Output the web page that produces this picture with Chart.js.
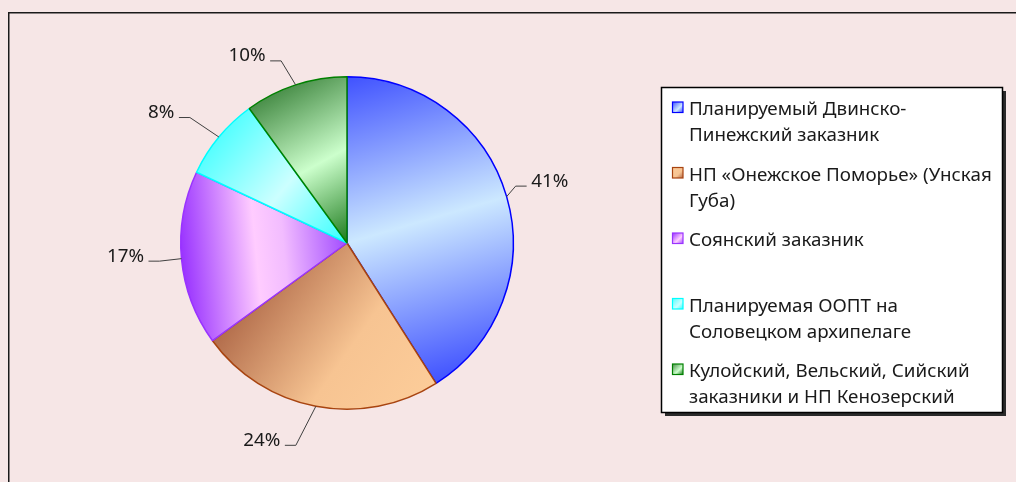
<!DOCTYPE html>
<html>
<head>
<meta charset="utf-8">
<script src="https://cdn.jsdelivr.net/npm/chart.js@4.4.0/dist/chart.umd.min.js"></script>
<style>
  html, body { margin: 0; padding: 0; background: #f6e6e6; }
  #wrap { width: 1016px; height: 482px; }
</style>
</head>
<body>
<div id="wrap"><canvas id="share-pie" width="1016" height="482"></canvas></div>
<script>
// Data
const legendLines = [
  ['Планируемый Двинско-', 'Пинежский заказник'],
  ['НП «Онежское Поморье» (Унская', 'Губа)'],
  ['Соянский заказник', ''],
  ['Планируемая ООПТ на', 'Соловецком архипелаге'],
  ['Кулойский, Вельский, Сийский', 'заказники и НП Кенозерский']
];
const categories = legendLines.map(l => l.join(' ').trim());
const shares = [41, 24, 17, 8, 10];

// Slice look: gradient runs between two points given as (fraction of slice angle, fraction of radius)
const sliceStyles = [
  { border: '#0000ff', from: [0, 1], to: [1, 1],
    stops: [[0, '#4052ff'], [0.5, '#cce8ff'], [1, '#4052ff']] },
  { border: '#a84410', from: [0, 1], to: [1.29, 0.53],
    stops: [[0, '#fccc99'], [0.42, '#f7c492'], [1, '#ad6646']] },
  { border: '#9933ff', from: [0.5, 1], to: [0.5, 0],
    stops: [[0, '#9933ff'], [0.45, '#ffccff'], [0.62, '#f2bcff'], [1, '#a24cff']] },
  { border: '#00ffff', from: [0.5, 1], to: [0.5, 0],
    stops: [[0, '#55ffff'], [0.5, '#ccffff'], [1, '#33ffff']] },
  { border: '#008000', from: [0.2, 1], to: [0.5, 0],
    stops: [[0, '#4a8f4a'], [0.5, '#ccffcc'], [1, '#1c7a1c']] }
];

// Leader elbow offsets from the slice edge, px
const labelOffsets = [[9, -10.5], [-20, 39], [-22, 2.5], [-29, -19.5], [-14.5, -24]];

const BORDER_W = 1.5;
const FONT = "18.8px 'Noto Sans', sans-serif";
const TEXT = '#1a1a1a';

function sliceFill(c) {
  const st = sliceStyles[c.dataIndex];
  const area = c.chart.chartArea;
  if (!area) return st.stops[1][1];
  const cx = (area.left + area.right) / 2, cy = (area.top + area.bottom) / 2;
  const r = (Math.min(area.width, area.height) - BORDER_W) / 2;
  const total = shares.reduce((a, b) => a + b, 0);
  let before = 0;
  for (let i = 0; i < c.dataIndex; i++) before += shares[i];
  const a0 = before / total * Math.PI * 2 - Math.PI / 2;
  const span = shares[c.dataIndex] / total * Math.PI * 2;
  const pt = ([f, rf]) => {
    const a = a0 + f * span;
    return [cx + Math.cos(a) * r * rf, cy + Math.sin(a) * r * rf];
  };
  const p0 = pt(st.from), p1 = pt(st.to);
  const g = c.chart.ctx.createLinearGradient(p0[0], p0[1], p1[0], p1[1]);
  st.stops.forEach(([o, col]) => g.addColorStop(o, col));
  return g;
}

const backdrop = {
  id: 'backdrop',
  beforeDraw(chart) {
    const ctx = chart.ctx;
    ctx.save();
    ctx.fillStyle = '#f6e6e6';
    ctx.fillRect(0, 0, chart.width, chart.height);
    ctx.strokeStyle = '#1a1a1a';
    ctx.lineWidth = 1.5;
    ctx.strokeRect(8.75, 12.75, chart.width + 50, chart.height + 50);
    ctx.restore();
  }
};

const pieLabels = {
  id: 'pieLabels',
  afterDatasetsDraw(chart) {
    const ctx = chart.ctx;
    const total = shares.reduce((a, b) => a + b, 0);
    ctx.save();
    ctx.font = FONT;
    ctx.fillStyle = TEXT;
    ctx.strokeStyle = '#404040';
    ctx.lineWidth = 1;
    chart.getDatasetMeta(0).data.forEach((arc, i) => {
      const mid = (arc.startAngle + arc.endAngle) / 2;
      const ex = arc.x + Math.cos(mid) * arc.outerRadius;
      const ey = arc.y + Math.sin(mid) * arc.outerRadius;
      const bx = ex + labelOffsets[i][0];
      const by = ey + labelOffsets[i][1];
      const side = Math.cos(mid) >= 0 ? 1 : -1;
      const hx = bx + side * 11;
      ctx.beginPath();
      ctx.moveTo(ex, ey);
      ctx.lineTo(bx, by);
      ctx.lineTo(hx, by);
      ctx.stroke();
      const txt = Math.round(shares[i] / total * 100) + '%';
      ctx.textAlign = side > 0 ? 'left' : 'right';
      ctx.textBaseline = 'alphabetic';
      ctx.fillText(txt, hx + side * 4.5, by + 0.5);
    });
    ctx.restore();
  }
};

const boxLegend = {
  id: 'boxLegend',
  afterDraw(chart) {
    const ctx = chart.ctx;
    const box = { x: 661.5, y: 87.5, w: 341, h: 325 };
    ctx.save();
    ctx.fillStyle = '#2a2a2a';
    ctx.fillRect(box.x + 3.5, box.y + 3.5, box.w, box.h);
    ctx.fillStyle = '#ffffff';
    ctx.fillRect(box.x, box.y, box.w, box.h);
    ctx.strokeStyle = '#000000';
    ctx.lineWidth = 1.5;
    ctx.strokeRect(box.x, box.y, box.w, box.h);

    ctx.font = FONT;
    ctx.textAlign = 'left';
    ctx.textBaseline = 'alphabetic';
    legendLines.forEach((lines, i) => {
      const base = 115 + i * 65.5;
      const st = sliceStyles[i];
      const sx = 672.5, sy = base - 13, s = 10.5;
      const g = ctx.createLinearGradient(sx, sy, sx + s, sy + s);
      g.addColorStop(0, st.stops[0][1]);
      g.addColorStop(0.6, st.stops[1][1]);
      g.addColorStop(1, st.stops[st.stops.length - 1][1]);
      ctx.fillStyle = g;
      ctx.fillRect(sx, sy, s, s);
      ctx.strokeStyle = st.border;
      ctx.lineWidth = 1.2;
      ctx.strokeRect(sx, sy, s, s);
      ctx.fillStyle = TEXT;
      lines.forEach((ln, k) => ctx.fillText(ln, 689, base + k * 26));
    });
    ctx.restore();
  }
};

new Chart(document.getElementById('share-pie').getContext('2d'), {
  type: 'pie',
  data: {
    labels: categories,
    datasets: [{
      data: shares,
      backgroundColor: sliceFill,
      borderColor: sliceStyles.map(s => s.border),
      borderWidth: BORDER_W
    }]
  },
  options: {
    responsive: false,
    devicePixelRatio: 1,
    animation: false,
    layout: { padding: { left: 180, right: 502, top: 75, bottom: 71 } },
    plugins: {
      legend: { display: false },
      tooltip: { enabled: false }
    }
  },
  plugins: [backdrop, pieLabels, boxLegend]
});
</script>
</body>
</html>
